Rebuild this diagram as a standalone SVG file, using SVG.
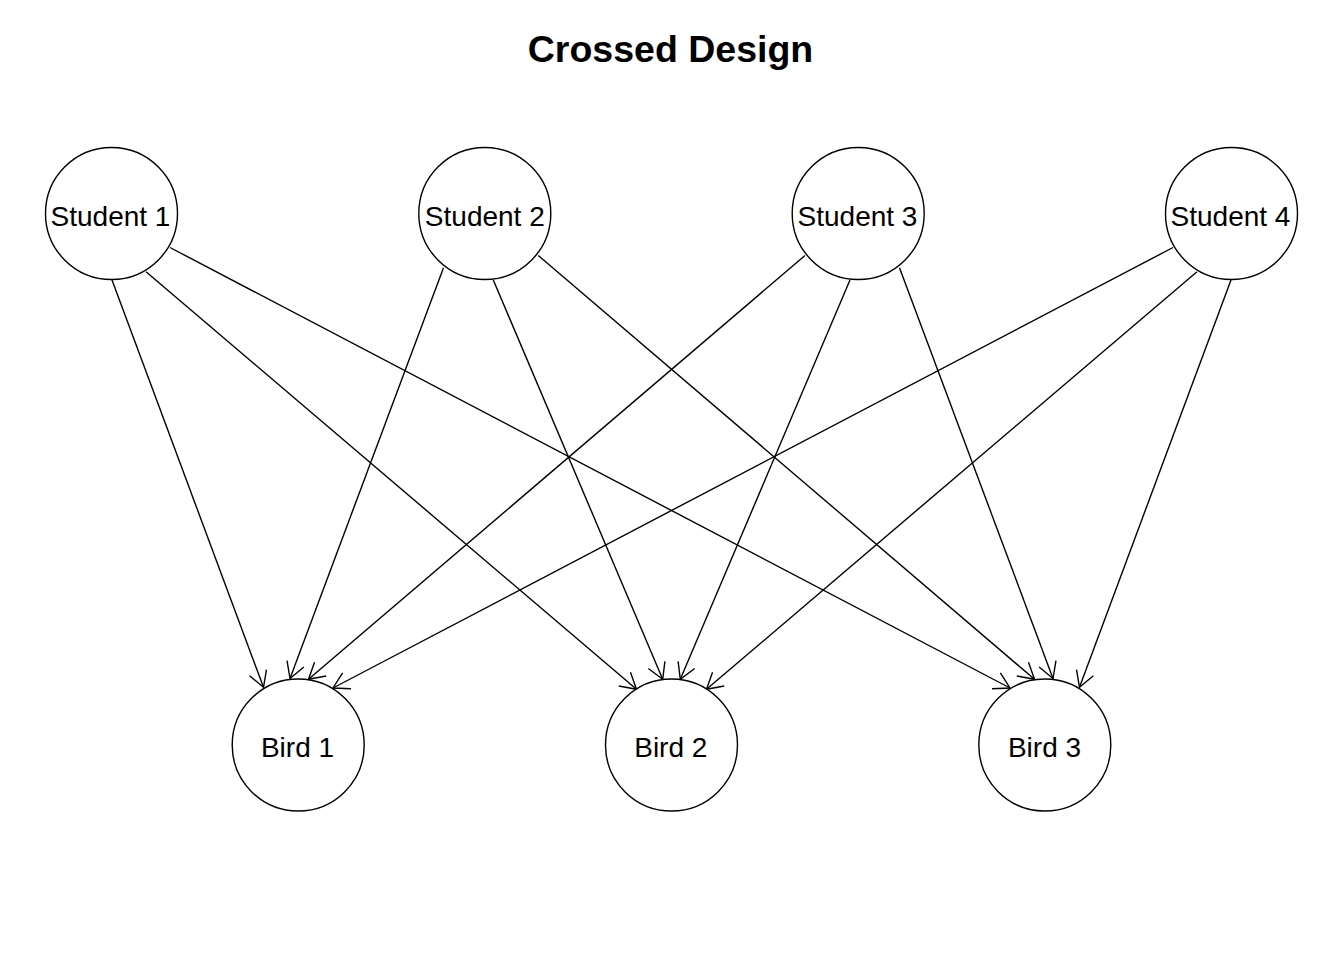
<svg xmlns="http://www.w3.org/2000/svg" width="1344" height="960" viewBox="0 0 1344 960">
<style>
.node circle{fill:#fff;stroke:#000;stroke-width:1.4}
.node text{font-family:"Liberation Sans",Arial,sans-serif;font-size:28px;text-anchor:middle;fill:#000}
.edges line{stroke:#000;stroke-width:1.4;marker-end:url(#arr)}
.title{font-family:"Liberation Sans",Arial,sans-serif;font-size:37.5px;font-weight:bold;text-anchor:middle;fill:#000}
</style>
<defs>
<marker id="arr" markerUnits="userSpaceOnUse" orient="auto" markerWidth="40" markerHeight="40" refX="0" refY="0" viewBox="-20 -20 40 40" overflow="visible">
<path d="M-15.6,-9 L0,0 L-15.6,9" fill="none" stroke="#000" stroke-width="1.4"/>
</marker>
</defs>
<rect width="1344" height="960" fill="#fff"/>
<text class="title" x="670.5" y="62">Crossed Design</text>
<g class="edges">
<line x1="112" y1="280" x2="263.5" y2="687.3"/>
<line x1="146" y1="271.7" x2="636.5" y2="689.3"/>
<line x1="170" y1="247.5" x2="1010" y2="688"/>
<line x1="443.5" y1="267.7" x2="290" y2="678.5"/>
<line x1="493.3" y1="280" x2="662.7" y2="679.3"/>
<line x1="538.3" y1="255.5" x2="1034.5" y2="679.3"/>
<line x1="805" y1="255.5" x2="308.5" y2="679.3"/>
<line x1="850" y1="280" x2="680.3" y2="679.3"/>
<line x1="899.5" y1="267.7" x2="1053" y2="678.5"/>
<line x1="1173" y1="247.5" x2="333" y2="688"/>
<line x1="1197" y1="271.7" x2="706.5" y2="689.3"/>
<line x1="1231" y1="280" x2="1079.5" y2="687.3"/>
</g>
<g id="student1" class="node"><circle cx="111.5" cy="213.5" r="66"/><text x="110.5" y="226">Student 1</text></g>
<g id="student2" class="node"><circle cx="484.8" cy="213.5" r="66"/><text x="484.8" y="226">Student 2</text></g>
<g id="student3" class="node"><circle cx="858.2" cy="213.5" r="66"/><text x="857.5" y="226">Student 3</text></g>
<g id="student4" class="node"><circle cx="1231.5" cy="213.5" r="66"/><text x="1230.5" y="226">Student 4</text></g>
<g id="bird1" class="node"><circle cx="298.2" cy="745" r="66"/><text x="297.5" y="757">Bird 1</text></g>
<g id="bird2" class="node"><circle cx="671.5" cy="745" r="66"/><text x="670.8" y="757">Bird 2</text></g>
<g id="bird3" class="node"><circle cx="1044.8" cy="745" r="66"/><text x="1044.5" y="757">Bird 3</text></g>
</svg>
